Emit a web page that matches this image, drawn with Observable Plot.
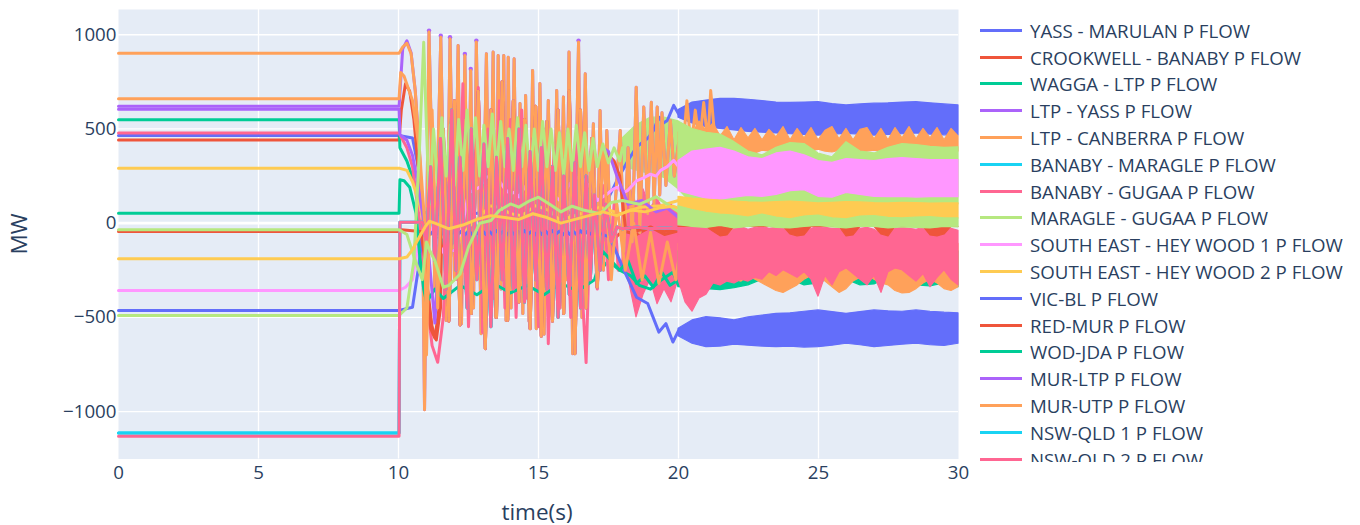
<!DOCTYPE html>
<html><head><meta charset="utf-8">
<script src="https://cdn.jsdelivr.net/npm/d3@7"></script>
<script src="https://cdn.jsdelivr.net/npm/@observablehq/plot@0.6"></script>
<style>
body{margin:0;background:#fff;}
#wrap{position:relative;width:1360px;height:525px;font-family:"Open Sans",sans-serif;color:#2a3f5f;overflow:hidden;}
#legend{position:absolute;left:980px;top:17px;width:380px;height:445px;overflow:hidden;}
.item{height:26.8px;display:flex;align-items:center;font-size:18.7px;white-space:nowrap;}
.sw{width:42px;height:3px;margin-right:8px;flex:none;}
.axt{position:absolute;font-size:22.5px;white-space:nowrap;transform:translate(-50%,-50%);}
</style></head><body><div id="wrap"></div><script>
// ---------- legend / colours ----------
const legendNames = ["YASS - MARULAN P FLOW","CROOKWELL - BANABY P FLOW","WAGGA - LTP P FLOW","LTP - YASS P FLOW","LTP - CANBERRA P FLOW","BANABY - MARAGLE P FLOW","BANABY - GUGAA P FLOW","MARAGLE - GUGAA P FLOW","SOUTH EAST - HEY WOOD 1 P FLOW","SOUTH EAST - HEY WOOD 2 P FLOW","VIC-BL P FLOW","RED-MUR P FLOW","WOD-JDA P FLOW","MUR-LTP P FLOW","MUR-UTP P FLOW","NSW-QLD 1 P FLOW","NSW-QLD 2 P FLOW"];
const palette = ["#636efa","#EF553B","#00cc96","#ab63fa","#FFA15A","#19d3f3","#FF6692","#B6E880","#FF97FF","#FECB52"];
const xTicks = [0,5,10,15,20,25,30];
const yTicks = [-1000,-500,0,500,1000];

// ---------- line series: [time (s), MW] ----------
const yassMarulan = [[0,465],[10.02,465],[10.5,452],[10.7,300],[10.86,60],[11,55],[11.5,45],[12,60],[12.5,45],[13,58],[13.5,48],[14,60],[14.5,45],[15,55],[15.5,48],[16,58],[16.5,45],[17,55],[17.2,52],[17.45,120],[17.8,226],[18.2,333],[18.5,404],[18.9,450],[19.1,490],[19.3,563],[19.45,530],[19.6,545],[19.83,625],[20,580]];
const crookwellHead = [[0,442],[10.02,442],[10.1,600],[10.25,740],[10.4,700],[10.55,550],[10.7,300],[10.85,50],[11,-300],[11.2,-550],[11.35,-620],[11.5,-450]];
const crookwellTail = [[17.6,-100],[18,-40],[18.5,-60],[19,-20],[19.5,-60],[20,-40]];
const waggaHead = [[0,549],[10.02,549],[10.05,400],[10.3,330],[10.5,243],[10.7,140],[10.87,50],[11,-100]];
const waggaTail = [[17.5,-200],[17.9,-250],[18.3,-280],[18.6,-330],[19,-350],[19.4,-300],[19.8,-260],[20,-330]];
const ltpYassHead = [[0,620],[10.02,620],[10.15,925],[10.3,968],[10.45,905]];
const ltpYassPeaks = [[11.09,1022],[11.51,995],[11.84,987],[12.37,898],[12.58,818],[12.78,969],[16.43,969]];
const canberraHead = [[0,902],[10.02,902],[10.15,935],[10.3,955],[10.45,900]];
const canberraOsc = [[10.6,700],[10.75,368],[10.86,14],[10.93,-990],[11.09,1014],[11.3,-350],[11.51,987],[11.7,-516],[11.84,979],[12,-300],[12.13,943],[12.25,-534],[12.37,890],[12.48,-250],[12.58,810],[12.68,-450],[12.78,961],[12.95,-587],[13.14,899],[13.26,-400],[13.38,908],[13.47,-500],[13.56,890],[13.66,-350],[13.76,890],[13.84,-516],[13.92,881],[14.02,-450],[14.13,872],[14.24,-300],[14.34,635],[14.44,-480],[14.54,678],[14.66,-520],[14.79,810],[14.92,-560],[15.05,741],[15.2,-590],[15.35,651],[15.5,-500],[15.65,704],[15.77,-450],[15.89,669],[16,-300],[16.09,908],[16.22,-693],[16.43,961],[16.55,-500],[16.67,793],[16.8,-300],[16.96,528],[17.08,-340],[17.2,598],[17.32,-250],[17.44,492],[17.6,-200],[17.92,492],[18.05,-150],[18.2,400],[18.35,-100],[18.49,722],[18.62,-50],[18.76,616],[18.9,50],[19.03,642],[19.13,100],[19.24,616],[19.33,150],[19.41,586],[19.55,200],[19.71,545],[19.85,250],[20,420]];
const canberraSpikes = [[20,420],[20.15,380],[20.3,650],[20.45,400],[20.6,600],[20.75,420],[20.9,640],[21.05,430],[21.15,704],[21.3,450],[21.5,420]];
const banabyMaragleHead = [[0,-1113],[10.02,-1113]];
const nswQld1Head = [[0,-1113],[10.02,-1113]];
const nswQld2Head = [[0,-1131],[10.02,-1131]];
const nswTail = [[10.05,5],[10.85,5],[11,-100],[11.15,300],[11.3,-200],[11.5,450],[11.7,-350],[11.9,600],[12.05,-250],[12.2,350],[12.45,-450],[12.6,500],[12.8,-300],[13.05,420],[13.3,-550],[13.5,350],[13.7,-300],[13.9,450],[14.1,-350],[14.3,500],[14.5,-420],[14.7,380],[14.9,-300],[15.1,400],[15.3,-350],[15.5,300],[15.7,-500],[15.9,250],[16.1,-380],[16.3,320],[16.5,-450],[16.7,250],[16.85,-300],[17,150],[17.2,-250],[17.4,100],[17.6,-100],[17.8,-20],[18,-30],[18.5,-20],[19,-30],[19.5,-25],[20,-30]];
const banabyGugaa = [[0,478],[10.02,478],[10.3,400],[10.5,300],[10.75,14],[11,-400],[11.2,-650],[11.4,-738],[11.6,-500],[11.8,200],[11.95,400],[12.1,-300],[12.3,740],[12.5,-550],[12.7,300],[12.85,720],[13,-580],[13.2,500],[13.4,-400],[13.6,650],[13.8,-450],[14,550],[14.2,-500],[14.4,600],[14.6,-400],[14.8,450],[15,-550],[15.2,500],[15.35,-640],[15.55,400],[15.75,-450],[15.95,350],[16.15,-500],[16.35,450],[16.5,-200],[16.7,-740],[16.9,300],[17.1,-350],[17.3,200],[17.5,-300],[17.7,100],[17.85,-250],[18,-200]];
const maragleGugaa = [[0,-490],[10.02,-490],[10.3,-450],[10.55,-200],[10.75,400],[10.9,960],[11,500],[11.1,100],[11.25,500],[11.4,200],[11.55,560],[11.7,250],[11.85,520],[12,200],[12.15,550],[12.3,280],[12.45,600],[12.6,300],[12.75,560],[12.9,250],[13.05,520],[13.2,300],[13.35,580],[13.5,280],[13.65,540],[13.8,300],[13.95,500],[14.1,280],[14.25,560],[14.4,300],[14.55,520],[14.7,250],[14.85,500],[15,280],[15.15,540],[15.3,300],[15.45,500],[15.6,280],[15.75,480],[15.9,250],[16.05,500],[16.2,280],[16.35,520],[16.5,300],[16.65,480],[16.8,280],[16.95,450],[17.1,300],[17.3,420],[17.5,320],[17.7,400],[17.9,330],[18,400]];
const seHeywood1 = [[0,-357],[10.02,-357],[10.25,-340],[10.5,-300],[10.75,-72],[10.95,-20],[11.1,-20],[11.4,-100],[11.7,-180],[11.85,-140],[12.1,-150],[12.3,0],[12.5,160],[12.7,175],[12.9,191],[13.1,240],[13.26,250],[13.45,215],[13.6,225],[13.8,180],[14,155],[14.15,165],[14.3,140],[14.5,190],[14.7,225],[14.9,250],[15.05,280],[15.2,210],[15.4,155],[15.6,140],[15.77,120],[15.95,170],[16.12,210],[16.3,230],[16.5,250],[16.7,215],[16.84,191],[17,150],[17.1,120],[17.3,140],[17.46,155],[17.65,180],[17.82,191],[18,160],[18.18,173],[18.35,200],[18.5,225],[18.75,240],[19,260],[19.2,250],[19.36,280],[19.6,300],[19.83,333],[20,300]];
const seHeywood2 = [[0,292],[10.02,292],[10.3,280],[10.5,220],[10.75,102],[10.95,-20],[11.1,-55],[11.6,-72],[11.85,-140],[12.2,-90],[12.5,-20],[12.9,32],[13.26,93],[13.6,85],[14,50],[14.4,40],[14.9,93],[15.4,67],[15.77,14],[16.5,50],[17.2,85],[17.92,50],[18.64,85],[19.36,93],[20,120]];
const vicBl = [[0,-463],[10.02,-463],[10.5,-446],[10.7,-250],[10.86,-55],[11,-48],[11.125,-60],[11.25,-42],[11.375,-58],[11.5,-40],[11.625,-62],[11.75,-44],[11.875,-58],[12,-40],[12.125,-60],[12.25,-42],[12.375,-62],[12.5,-40],[12.625,-58],[12.75,-42],[12.875,-62],[13,-40],[13.125,-60],[13.25,-44],[13.375,-62],[13.5,-40],[13.625,-60],[13.75,-42],[13.875,-62],[14,-40],[14.125,-58],[14.25,-42],[14.375,-62],[14.5,-40],[14.625,-60],[14.75,-44],[14.875,-62],[15,-40],[15.125,-60],[15.25,-42],[15.375,-62],[15.5,-40],[15.625,-58],[15.75,-42],[15.875,-62],[16,-40],[16.125,-60],[16.25,-44],[16.375,-62],[16.5,-40],[16.625,-60],[16.75,-42],[16.875,-58],[17,-45],[17.2,-55],[17.55,-74],[18,-233],[18.5,-393],[18.9,-426],[19.3,-578],[19.55,-533],[19.8,-631],[20,-570]];
const redMurHead = [[0,-44],[10.02,-44],[10.1,-35],[10.8,-44],[10.95,-200],[11.15,-560],[11.3,-610],[11.45,-450]];
const redMurTail = [[17.5,360],[17.7,330],[17.9,250],[18.1,-20],[18.5,-40],[19,-25],[19.5,-45],[20,-30]];
const wodJda = [[0,53],[10.02,53],[10.05,230],[10.2,225],[10.4,191],[10.63,50],[10.75,-162],[10.9,-350],[11,-420],[11.3,-350],[11.6,-400],[12.2,-330],[12.8,-380],[13.4,-320],[14,-370],[14.6,-330],[15.2,-380],[15.8,-320],[16.4,-360],[17,-300],[17.3,-150],[17.6,-200],[17.9,-250],[18.2,-200],[18.5,-320],[18.8,-280],[19.1,-340],[19.4,-260],[19.7,-330],[20,-300]];
const murOsc = [[11.6,500],[11.8,-520],[12,650],[12.2,-540],[12.4,550],[12.6,-480],[12.85,700],[13.1,-666],[13.3,600],[13.5,-500],[13.7,750],[13.9,-516],[14.1,650],[14.3,-420],[14.5,550],[14.7,-560],[14.9,620],[15.1,-600],[15.3,540],[15.5,-520],[15.7,600],[15.9,-480],[16.1,700],[16.3,-693],[16.5,600],[16.7,-450],[16.9,450],[17.1,-340],[17.3,400]];
const murLtpHead = [[0,605],[10.02,605],[10.05,470],[10.3,440],[10.5,360],[10.7,200],[10.9,10],[11.1,-200],[11.3,-530],[11.45,-100]];
const murLtpTail = [[17.5,380],[17.8,250],[18.2,100],[18.7,120],[19.2,60],[19.6,80],[20,30]];
const murUtpHead = [[0,660],[10.02,660],[10.08,800],[10.2,780],[10.5,651],[10.75,386],[10.93,14],[11,-700],[11.2,600],[11.4,-450]];
const murUtpTail = [[17.6,-300],[17.8,100],[18.1,-250],[18.4,0],[18.7,-300],[19,-50],[19.3,-320],[19.6,-100],[19.9,-300],[20,-200]];
const unlabeledGreen = [[0,-35],[10.02,-35],[10.3,-60],[10.6,-200],[10.85,-300],[11,-100],[11.1,-140],[11.3,-200],[11.6,-340],[11.8,-330],[12,-300],[12.2,-270],[12.5,-126],[12.9,0],[13.3,14],[13.6,67],[14,102],[14.3,85],[14.7,120],[15,138],[15.4,100],[15.8,60],[16.2,90],[16.6,70],[17.2,50],[17.6,110],[18,120],[18.6,100],[19.2,140],[19.6,100],[20,60]];
const unlabeledYellow = [[0,-189],[10.02,-189],[10.3,-180],[10.5,-140],[10.75,-72],[10.95,-20],[11.1,10],[11.3,0],[11.8,-30],[12.3,-10],[12.8,20],[13.3,40],[13.8,30],[14.3,20],[14.8,50],[15.3,30],[15.8,0],[16.3,20],[16.8,40],[17.3,60],[17.8,40],[18.3,70],[18.8,60],[19.3,80],[19.8,90],[20,80]];

// ---------- dense-oscillation envelopes (low / high MW) ----------
const tHalf20 = [20,20.5,21,21.5,22,22.5,23,23.5,24,24.5,25,25.5,26,26.5,27,27.5,28,28.5,29,29.5,30];
const tQuarter20 = [20,20.25,20.5,20.75,21,21.25,21.5,21.75,22,22.25,22.5,22.75,23,23.25,23.5,23.75,24,24.25,24.5,24.75,25,25.25,25.5,25.75,26,26.25,26.5,26.75,27,27.25,27.5,27.75,28,28.25,28.5,28.75,29,29.25,29.5,29.75,30];
const tHalf18 = [18,18.5,19,19.5,20,20.5,21,21.5,22,22.5,23,23.5,24,24.5,25,25.5,26,26.5,27,27.5,28,28.5,29,29.5,30];
const tQuarter18 = [18,18.25,18.5,18.75,19,19.25,19.5,19.75,20,20.25,20.5,20.75,21,21.25,21.5,21.75,22,22.25,22.5,22.75,23,23.25,23.5,23.75,24,24.25,24.5,24.75,25,25.25,25.5,25.75,26,26.25,26.5,26.75,27,27.25,27.5,27.75,28,28.25,28.5,28.75,29,29.25,29.5,29.75,30];
const yassBandHi = [600,640,651,660,660,655,648,640,638,640,642,632,625,630,634,636,640,642,636,630,625];
const yassBandLo = [560,529,510,500,492,485,480,476,472,468,465,470,474,470,465,468,472,476,470,466,465];
const vicBandHi = [-560,-516,-499,-505,-516,-500,-490,-481,-478,-470,-463,-472,-481,-472,-463,-468,-470,-463,-470,-475,-478];
const vicBandLo = [-600,-640,-658,-655,-645,-650,-655,-658,-655,-660,-658,-650,-640,-648,-658,-652,-645,-640,-648,-652,-640];
const canberraBandHi = [480,520,470,540,490,530,460,510,440,505,450,500,440,495,455,510,440,500,450,505,440,490,510,445,500,440,495,505,445,500,440,505,450,510,445,500,450,505,440,500,460];
const canberraBandLo = [250,300,330,350,360,370,380,385,375,390,380,370,385,380,375,390,380,385,375,380,390,380,375,385,380,390,375,380,385,380,375,390,380,385,375,380,390,380,375,385,380];
const maragleBandHi = [450,520,560,560,540,500,480,470,430,380,360,400,425,420,370,350,430,380,370,400,420,415,405,400,403];
const maragleBandLo = [300,280,260,240,180,100,100,100,100,100,100,100,100,100,100,100,100,100,100,100,100,100,100,100,100];
const heywood1BandHi = [330,380,390,400,380,350,340,370,380,360,330,320,340,335,330,340,345,340,335,335,335];
const heywood1BandLo = [170,150,130,125,135,145,140,150,170,175,140,135,160,150,140,138,140,136,138,140,138];
const heywood2BandHi = [140,130,125,120,115,110,108,112,115,110,105,108,112,110,106,105,108,106,104,105,105];
const heywood2BandLo = [90,70,55,45,40,30,45,30,20,35,40,25,20,35,38,28,25,30,32,25,25];
const unlabeledGreenBandLo = [-10,-20,-25,-15,-28,-20,-15,-25,-28,-20,-15,-22,-28,-18,-20,-28,-22,-25,-28,-20,-22];
const wodJdaBandHi = [-150,-150,-150,-150,-150,-150,-150,-150,-150,-150,-150,-150,-150,-150,-150,-150,-150,-150,-150,-150,-150];
const wodJdaBandLo = [-340,-345,-350,-355,-345,-330,-300,-290,-300,-330,-320,-290,-300,-330,-325,-290,-300,-330,-335,-320,-340];
const murUtpBandHi = [-110,-110,-110,-110,-110,-110,-110,-110,-110,-110,-110,-110,-110,-110,-110,-110,-110,-110,-110,-110,-110,-110,-110,-110,-110,-110,-110,-110,-110,-110,-110,-110,-110,-110,-110,-110,-110,-110,-110,-110,-110];
const murUtpBandLo = [-300,-320,-280,-330,-300,-290,-320,-280,-300,-310,-280,-300,-320,-340,-360,-370,-350,-330,-300,-280,-290,-310,-340,-370,-350,-310,-290,-280,-300,-320,-330,-360,-373,-370,-350,-320,-300,-320,-350,-360,-340];
const gugaaBandHi = [150,200,100,180,80,130,60,100,50,0,-20,10,-30,-40,-65,-70,-30,-20,-35,-25,-20,-30,-25,-30,-60,-70,-65,-30,-20,-25,-30,-30,-70,-65,-30,-25,-35,-60,-70,-30,-25,-30,-35,-25,-60,-70,-60,-30,-40];
const gugaaBandLo = [-220,-320,-500,-380,-300,-430,-350,-420,-300,-420,-470,-400,-380,-320,-330,-310,-320,-300,-310,-290,-300,-260,-280,-250,-270,-290,-260,-300,-390,-280,-330,-260,-240,-270,-300,-330,-280,-370,-260,-240,-250,-280,-310,-270,-340,-290,-250,-300,-330];
const redMurBandHi = [-20,-20,-20,-20,-20,-20,-20,-20,-20,-20,-20,-20,-20,-20,-20,-20,-20,-20,-20,-20,-20,-20,-20,-20,-20,-20,-20,-20,-20,-20,-20,-20,-20,-20,-20,-20,-20,-20,-20,-20,-20];
const redMurBandLo = [-20,-20,-20,-20,-20,-45,-70,-65,-20,-20,-20,-20,-20,-20,-20,-20,-60,-70,-65,-20,-20,-20,-20,-20,-70,-65,-20,-20,-20,-60,-70,-20,-20,-20,-20,-20,-65,-70,-60,-20,-20];

// ---------- marks ----------
const T = d => d[0], V = d => d[1];
const lineMark = (pts, c) => Plot.line(pts, {x: T, y: V, stroke: c, strokeWidth: 3, strokeLinejoin: "round", strokeLinecap: "round"});
const rows = (ts, lo, hi, from, to) => ts.map((t, i) => ({t, lo: lo[i], hi: hi[i]})).filter(r => r.t >= from && r.t <= to);
const bandMark = (r, c) => Plot.areaY(r, {x: "t", y1: "lo", y2: "hi", fill: c, stroke: c, strokeWidth: 1.2, strokeLinejoin: "round"});
const C = palette;

const lines = [
  lineMark(yassMarulan, C[0]),
  lineMark([...crookwellHead, ...murOsc, ...crookwellTail], C[1]),
  lineMark([...waggaHead, ...nswTail.filter(d => d[0] >= 11.1 && d[0] <= 17.2), ...waggaTail], C[2]),
  lineMark([...ltpYassHead, ...canberraOsc], C[3]),
  Plot.dot(ltpYassPeaks, {x: T, y: V, r: 2.2, fill: C[3]}),
  lineMark([...canberraHead, ...canberraOsc], C[4]),
  lineMark([...banabyMaragleHead, ...nswTail], C[5]),
  lineMark(banabyGugaa, C[6]),
  lineMark(seHeywood1, C[8]),
  lineMark(seHeywood2, C[9]),
  lineMark(vicBl, C[0]),
  lineMark([...redMurHead, ...murOsc, ...redMurTail], C[1]),
  lineMark(wodJda, C[2]),
  lineMark([...murLtpHead, ...murOsc, ...murLtpTail], C[3]),
  lineMark([...murUtpHead, ...murOsc, ...murUtpTail], C[4]),
  lineMark(maragleGugaa, C[7]),
  lineMark([...nswQld1Head, ...nswTail], C[5]),
  lineMark([...nswQld2Head, ...nswTail], C[6]),
  lineMark(unlabeledGreen, C[7]),
  lineMark(unlabeledYellow, C[9])
];

const earlyBands = [
  bandMark(rows(tQuarter18, gugaaBandLo, gugaaBandHi, 18, 20), C[6]),
  bandMark(rows(tHalf18, maragleBandLo, maragleBandHi, 18, 20), C[7])
];
const lateBands = [
  bandMark(rows(tHalf20, yassBandLo, yassBandHi, 20, 30), C[0]),
  lineMark(canberraSpikes, C[4]),
  bandMark(rows(tQuarter20, canberraBandLo, canberraBandHi, 20, 30), C[4]),
  bandMark(rows(tHalf18, maragleBandLo, maragleBandHi, 20, 30), C[7]),
  bandMark(rows(tHalf20, heywood1BandLo, heywood1BandHi, 20, 30), C[8]),
  bandMark(rows(tHalf20, heywood2BandLo, heywood2BandHi, 20, 30), C[9]),
  bandMark(rows(tHalf20, wodJdaBandLo, wodJdaBandHi, 20, 30), C[2]),
  bandMark(rows(tQuarter20, murUtpBandLo, murUtpBandHi, 20, 30), C[4]),
  bandMark(rows(tQuarter18, gugaaBandLo, gugaaBandHi, 20, 30), C[6]),
  bandMark(rows(tQuarter20, redMurBandLo, redMurBandHi, 20, 30), C[1]),
  bandMark(rows(tHalf20, unlabeledGreenBandLo, heywood2BandLo, 20, 30), C[7]),
  bandMark(rows(tHalf20, vicBandLo, vicBandHi, 20, 30), C[0])
];

const fmt = d => d < 0 ? "\u2212" + Math.abs(d) : String(d);
const chart = Plot.plot({
  width: 1360, height: 525,
  marginLeft: 118, marginRight: 402, marginTop: 9, marginBottom: 66.5,
  style: {fontFamily: '"Open Sans", sans-serif', fontSize: "18.7px", color: "#2a3f5f", background: "transparent", overflow: "visible"},
  x: {domain: [0, 30]},
  y: {domain: [-1251.6, 1134]},
  marks: [
    Plot.frame({fill: "#E5ECF6", stroke: "none"}),
    Plot.gridX([5, 10, 15, 20, 25], {stroke: "#fff", strokeOpacity: 1, strokeWidth: 1.3}),
    Plot.gridY([-1000, -500, 500, 1000], {stroke: "#fff", strokeOpacity: 1, strokeWidth: 1.3}),
    Plot.ruleY([0], {stroke: "#fff", strokeWidth: 2.7}),
    ...earlyBands,
    ...lines,
    ...lateBands,
    Plot.axisX(xTicks, {tickSize: 0, tickPadding: 7, label: null, tickFormat: fmt}),
    Plot.axisY(yTicks, {tickSize: 0, tickPadding: 2, label: null, tickFormat: fmt})
  ]
});
const wrap = document.getElementById("wrap");
wrap.appendChild(chart);
chart.style.position = "absolute"; chart.style.left = "0"; chart.style.top = "0";

const leg = document.createElement("div"); leg.id = "legend";
legendNames.forEach((n, i) => {
  const it = document.createElement("div"); it.className = "item";
  const sw = document.createElement("span"); sw.className = "sw"; sw.style.background = palette[i % 10];
  const tx = document.createElement("span"); tx.textContent = n;
  it.appendChild(sw); it.appendChild(tx); leg.appendChild(it);
});
wrap.appendChild(leg);
const yt = document.createElement("div"); yt.className = "axt"; yt.textContent = "MW";
yt.style.left = "18px"; yt.style.top = "234px"; yt.style.transform = "translate(-50%,-50%) rotate(-90deg)";
wrap.appendChild(yt);
const xt = document.createElement("div"); xt.className = "axt"; xt.textContent = "time(s)";
xt.style.left = "537px"; xt.style.top = "511px";
wrap.appendChild(xt);
</script></body></html>
